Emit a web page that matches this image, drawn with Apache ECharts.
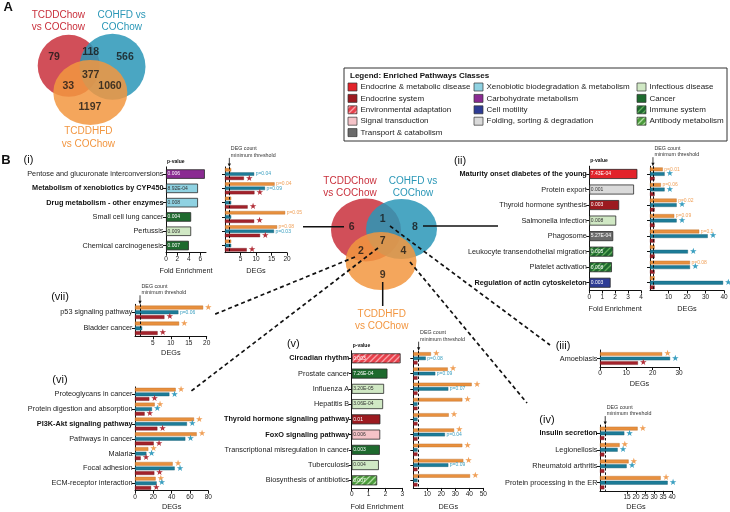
<!DOCTYPE html>
<html><head><meta charset="utf-8">
<script src="https://cdn.jsdelivr.net/npm/echarts@6/dist/echarts.min.js"></script>
<style>html,body{margin:0;padding:0;background:#fff}#c{width:730px;height:512px}</style>
</head><body><div id="c"></div>
<script>
// ================= DATA =================
const vennSetNames = ['TCDDChow\nvs COChow', 'COHFD vs\nCOChow', 'TCDDHFD\nvs COChow'];
const vennACounts = [79, 118, 566, 377, 33, 1060, 1197];
const vennBCounts = [6, 1, 8, 7, 2, 4, 9];

const legendCol1 = ['Endocrine & metabolic disease', 'Endocrine system', 'Environmental adaptation', 'Signal transduction', 'Transport & catabolism'];
const legendCol1Keys = ['endoMet', 'endoSys', 'envAdapt', 'signal', 'transport'];
const legendCol2 = ['Xenobiotic biodegradation & metabolism', 'Carbohydrate metabolism', 'Cell motility', 'Folding, sorting & degradation'];
const legendCol2Keys = ['xeno', 'carb', 'motility', 'folding'];
const legendCol3 = ['Infectious disease', 'Cancer', 'Immune system', 'Antibody metabolism'];
const legendCol3Keys = ['infectious', 'cancer', 'immune', 'antibody'];

// (i)
const iCats = ['Pentose and glucuronate interconversions', 'Metabolism of xenobiotics by CYP450', 'Drug metabolism - other enzymes', 'Small cell lung cancer', 'Pertussis', 'Chemical carcinogenesis'];
const iBold = [false, true, true, false, false, false];
const iClass = ['carb', 'xeno', 'xeno', 'cancer', 'infectious', 'cancer'];
const iFE = [6.8, 5.6, 5.6, 4.4, 4.4, 4.0];
const iP = ['0.006', '8.92E-04', '0.008', '0.004', '0.009', '0.007'];
const iHFD = [2, 16, 2, 19.4, 16.8, 2];
const iCOHFD = [9.4, 12.9, 2, 2, 15.8, 2];
const iChow = [6.1, 9.5, 7.3, 9.4, 11.3, 7];
const iNoteHFD = ['', 'p=0.04', '', 'p=0.05', 'p=0.08', ''];
const iNoteCOHFD = ['p=0.04', 'p=0.09', '', '', 'p=0.03', ''];
const iNoteChow = ['★', '★', '★', '★', '★', '★'];
const iThreshold = 1.4;

// (ii)
const iiCats = ['Maturity onset diabetes of the young', 'Protein export', 'Thyroid hormone synthesis', 'Salmonella infection', 'Phagosome', 'Leukocyte transendothelial migration', 'Platelet activation', 'Regulation of actin cytoskeleton'];
const iiBold = [true, false, false, false, false, false, false, true];
const iiClass = ['endoMet', 'folding', 'endoSys', 'infectious', 'transport', 'immune', 'immune', 'motility'];
const iiFE = [3.72, 3.46, 2.31, 2.08, 1.85, 1.85, 1.75, 1.65];
const iiP = ['7.43E-04', '0.001', '0.003', '0.008', '5.27E-04', '0.005', '0.008', '0.003'];
const iiHFD = [6.9, 5.9, 14.4, 13.1, 26.6, 2.5, 21.6, 2.5];
const iiCOHFD = [7.9, 7.9, 14.4, 14.4, 31.2, 20.5, 21.6, 39.5];
const iiChow = [2.5, 2.5, 2.5, 2.5, 2.5, 2.5, 2.5, 2.5];
const iiNoteHFD = ['p=0.01', 'p=0.06', 'p=0.02', 'p=0.09', 'p=0.1', '', 'p=0.08', ''];
const iiNoteCOHFD = ['★', '★', '★', '★', '★', '★', '★', '★'];
const iiNoteChow = ['', '', '', '', '', '', '', ''];
const iiThreshold = 1.6;

// (iii)
const iiiCats = ['Amoebiasis'];
const iiiBold = [false];
const iiiHFD = [23.6];
const iiiCOHFD = [26.6];
const iiiChow = [14.4];
const iiiNoteHFD = ['★'];
const iiiNoteCOHFD = ['★'];
const iiiNoteChow = ['★'];
const iiiThreshold = null;

// (iv)
const ivCats = ['Insulin secretion', 'Legionellosis', 'Rheumatoid arthritis', 'Protein processing in the ER'];
const ivBold = [true, false, false, false];
const ivHFD = [20.9, 10.9, 15.9, 33.7];
const ivCOHFD = [13.5, 9.8, 14.8, 37.6];
const ivChow = [2.4, 2.4, 2.4, 2.4];
const ivNoteHFD = ['★', '★', '★', '★'];
const ivNoteCOHFD = ['★', '★', '★', '★'];
const ivNoteChow = ['', '', '', ''];
const ivThreshold = 2.9;

// (v)
const vCats = ['Circadian rhythm', 'Prostate cancer', 'Influenza A', 'Hepatitis B', 'Thyroid hormone signaling pathway', 'FoxO signaling pathway', 'Transcriptional misregulation in cancer', 'Tuberculosis', 'Biosynthesis of antibiotics'];
const vBold = [true, false, false, false, true, true, false, false, false];
const vClass = ['envAdapt', 'cancer', 'infectious', 'infectious', 'endoSys', 'signal', 'cancer', 'infectious', 'antibody'];
const vFE = [2.9, 2.12, 1.92, 1.86, 1.70, 1.69, 1.67, 1.61, 1.51];
const vP = ['0.003', '7.26E-04', '3.20E-05', '3.06E-04', '0.01', '0.006', '0.003', '0.004', '0.007'];
const vHFD = [12.6, 24.6, 41.7, 35, 25.3, 29.1, 35, 35.7, 40.5];
const vCOHFD = [8.9, 15.7, 25, 3, 3, 22.6, 3, 25, 3];
const vChow = [3, 3, 3, 3, 3, 3, 3, 3, 3];
const vNoteHFD = ['★', '★', '★', '★', '★', '★', '★', '★', '★'];
const vNoteCOHFD = ['p=0.08', 'p=0.09', 'p=0.07', '', '', 'p=0.04', '', 'p=0.09', ''];
const vNoteChow = ['', '', '', '', '', '', '', '', ''];
const vThreshold = 3.8;

// (vi)
const viCats = ['Proteoglycans in cancer', 'Protein digestion and absorption', 'PI3K-Akt signaling pathway', 'Pathways in cancer', 'Malaria', 'Focal adhesion', 'ECM-receptor interaction'];
const viBold = [false, false, true, false, false, false, false];
const viHFD = [44.4, 21.5, 64.4, 67.3, 14.5, 41.1, 22.5];
const viCOHFD = [37.5, 18.5, 56.7, 54.9, 12.4, 43.3, 23.6];
const viChow = [15.6, 10.5, 24.4, 20.4, 6.2, 21.1, 17.5];
const viNoteHFD = ['★', '★', '★', '★', '★', '★', '★'];
const viNoteCOHFD = ['★', '★', '★', '★', '★', '★', '★'];
const viNoteChow = ['★', '★', '★', '★', '★', '★', '★'];
const viThreshold = null;

// (vii)
const viiCats = ['p53 signaling pathway', 'Bladder cancer'];
const viiBold = [false, false];
const viiHFD = [19, 12.3];
const viiCOHFD = [12.1, 2];
const viiChow = [8.2, 6.3];
const viiNoteHFD = ['★', '★'];
const viiNoteCOHFD = ['p=0.06', ''];
const viiNoteChow = ['★', '★'];
const viiThreshold = 1.4;

// ================= STYLE / LAYOUT =================
const FONT = '"Liberation Sans", Arial, Helvetica, sans-serif';
const SER_C = { hfd: '#e8903e', cohfd: '#1d7c98', chow: '#a3222b' };
const SER_B = { hfd: '#b86a25', cohfd: '#135a70', chow: '#6e141a' };
const NOTE_C = { hfd: '#f0a058', cohfd: '#3a9fc0', chow: '#b22e38' };

function hatch(base, stripe) {
  const cv = document.createElement('canvas');
  cv.width = 6; cv.height = 6;
  const g = cv.getContext('2d');
  g.fillStyle = base; g.fillRect(0, 0, 6, 6);
  g.strokeStyle = stripe; g.lineWidth = 1.3;
  g.beginPath();
  g.moveTo(-1, 7); g.lineTo(7, -1);
  g.moveTo(-1, 1); g.lineTo(1, -1);
  g.moveTo(5, 7); g.lineTo(7, 5);
  g.stroke();
  return { image: cv, repeat: 'repeat' };
}
const CLS = {
  endoMet: '#e2232a', endoSys: '#9c1a20', envAdapt: hatch('#e8414c', '#f7a3aa'), signal: '#f5c3c8', transport: '#6b6b6b',
  xeno: '#8fd2e2', carb: '#8a2b92', motility: '#2e3c95', folding: '#dadada',
  infectious: '#d0e8c4', cancer: '#1e6a2e', immune: hatch('#1e6a2e', '#62ad5c'), antibody: hatch('#4c9c3c', '#b0dda3')
};
const LIGHT = { xeno: 1, signal: 1, folding: 1, infectious: 1 };

const LAY = {
  i:   { top: 166.9, height: 85.8, bw: 3.4, feBW: 9.5, gap: 15, fe: { left: 166, width: 40, max: 7, ticks: [0, 2, 4, 6] }, deg: { left: 225, width: 62, max: 20, ticks: [5, 10, 15, 20] } },
  ii:  { top: 166.2, height: 124.3, bw: 3.7, feBW: 10, gap: 15, fe: { left: 589.3, width: 51.7, max: 4, ticks: [0, 1, 2, 3, 4] }, deg: { left: 650, width: 74, max: 40, ticks: [10, 20, 30, 40] } },
  iii: { top: 350, height: 17, bw: 3.6, gap: 13, deg: { left: 600, width: 79, max: 30, ticks: [0, 10, 20, 30] } },
  iv:  { top: 425.1, height: 65.8, bw: 3.8, gap: 12.5, deg: { left: 600, width: 72, max: 40, ticks: [15, 20, 25, 30, 35, 40] } },
  v:   { top: 350.7, height: 137.25, bw: 3.5, feBW: 10, gap: 15.5, fe: { left: 351.7, width: 50.6, max: 3, ticks: [0, 1, 2, 3] }, deg: { left: 413.3, width: 70, max: 50, ticks: [10, 20, 30, 40, 50] } },
  vi:  { top: 386.9, height: 103.8, bw: 3.7, gap: 12.5, deg: { left: 135, width: 73.3, max: 80, ticks: [0, 20, 40, 60, 80] } },
  vii: { top: 304.3, height: 32, bw: 3.8, gap: 13, deg: { left: 135, width: 71.7, max: 20, ticks: [5, 10, 15, 20] } }
};

const PANELS = [
  { k: 'i', cats: iCats, bold: iBold, fe: { v: iFE, c: iClass, p: iP }, hfd: iHFD, cohfd: iCOHFD, chow: iChow, n: { hfd: iNoteHFD, cohfd: iNoteCOHFD, chow: iNoteChow }, thr: iThreshold },
  { k: 'ii', cats: iiCats, bold: iiBold, fe: { v: iiFE, c: iiClass, p: iiP }, hfd: iiHFD, cohfd: iiCOHFD, chow: iiChow, n: { hfd: iiNoteHFD, cohfd: iiNoteCOHFD, chow: iiNoteChow }, thr: iiThreshold },
  { k: 'iii', cats: iiiCats, bold: iiiBold, hfd: iiiHFD, cohfd: iiiCOHFD, chow: iiiChow, n: { hfd: iiiNoteHFD, cohfd: iiiNoteCOHFD, chow: iiiNoteChow }, thr: iiiThreshold },
  { k: 'iv', cats: ivCats, bold: ivBold, hfd: ivHFD, cohfd: ivCOHFD, chow: ivChow, n: { hfd: ivNoteHFD, cohfd: ivNoteCOHFD, chow: ivNoteChow }, thr: ivThreshold },
  { k: 'v', cats: vCats, bold: vBold, fe: { v: vFE, c: vClass, p: vP }, hfd: vHFD, cohfd: vCOHFD, chow: vChow, n: { hfd: vNoteHFD, cohfd: vNoteCOHFD, chow: vNoteChow }, thr: vThreshold },
  { k: 'vi', cats: viCats, bold: viBold, hfd: viHFD, cohfd: viCOHFD, chow: viChow, n: { hfd: viNoteHFD, cohfd: viNoteCOHFD, chow: viNoteChow }, thr: viThreshold },
  { k: 'vii', cats: viiCats, bold: viiBold, hfd: viiHFD, cohfd: viiCOHFD, chow: viiChow, n: { hfd: viiNoteHFD, cohfd: viiNoteCOHFD, chow: viiNoteChow }, thr: viiThreshold }
];

const grids = [], xAxes = [], yAxes = [], series = [], graphics = [];

function addGrid(left, top, width, height) {
  grids.push({ left, top, width, height, containLabel: false, outerBoundsMode: 'none' });
  return grids.length - 1;
}
function addCatAxis(gi, cats, bold, showLabels) {
  yAxes.push({
    gridIndex: gi, type: 'category', inverse: true, data: cats,
    axisLine: { show: true, onZero: false, lineStyle: { color: '#111', width: 1 } },
    axisTick: { show: true, alignWithLabel: true, length: 3, lineStyle: { color: '#111' } },
    axisLabel: {
      show: showLabels, fontSize: 7.3, color: '#222', margin: 2.5, fontFamily: FONT,
      formatter: (v, i) => bold[i] ? '{b|' + v + '}' : v,
      rich: { b: { fontWeight: 'bold', fontSize: 7.3, color: '#111', fontFamily: FONT } }
    },
    splitLine: { show: false }
  });
  return yAxes.length - 1;
}
function addValAxis(gi, max, ticks, name, gap) {
  xAxes.push({
    gridIndex: gi, type: 'value', min: 0, max: max,
    axisLine: { show: true, onZero: false, lineStyle: { color: '#111', width: 1 } },
    axisTick: { show: true, length: 3, customValues: ticks, lineStyle: { color: '#111' } },
    axisLabel: { fontSize: 6.5, color: '#222', margin: 3, fontFamily: FONT, customValues: ticks },
    splitLine: { show: false },
    name: name, nameLocation: 'middle', nameGap: gap,
    nameTextStyle: { fontSize: 7.3, color: '#222', fontFamily: FONT }
  });
  return xAxes.length - 1;
}
function noteFmt(s) {
  if (!s) return '';
  if (s === '★') return '{s|★}';
  return '{p|' + s + '}';
}

PANELS.forEach(P => {
  const L = LAY[P.k];
  if (P.fe) {
    const g = addGrid(L.fe.left, L.top, L.fe.width, L.height);
    const xi = addValAxis(g, L.fe.max, L.fe.ticks, 'Fold Enrichment', L.gap);
    const yi = addCatAxis(g, P.cats, P.bold, true);
    series.push({
      type: 'bar', xAxisIndex: xi, yAxisIndex: yi, barWidth: L.feBW, silent: true,
      data: P.fe.v.map((v, i) => ({ value: v, itemStyle: { color: CLS[P.fe.c[i]] }, label: { color: LIGHT[P.fe.c[i]] ? '#333' : '#fff' } })),
      itemStyle: { borderColor: '#2a2a2a', borderWidth: 0.8 },
      label: { show: true, position: 'insideLeft', distance: 1.5, fontSize: 5, fontFamily: FONT, formatter: p => P.fe.p[p.dataIndex] }
    });
    graphics.push({ type: 'text', x: L.fe.left + 1, y: L.top - 5.5, style: { text: 'p-value', font: 'bold 5px ' + FONT, fill: '#111', textAlign: 'left', textVerticalAlign: 'middle', align: 'left', verticalAlign: 'middle' } });
  }
  const g2 = addGrid(L.deg.left, L.top, L.deg.width, L.height);
  const xi2 = addValAxis(g2, L.deg.max, L.deg.ticks, 'DEGs', L.gap);
  const yi2 = addCatAxis(g2, P.cats, P.bold, !P.fe);
  ['hfd', 'cohfd', 'chow'].forEach(k => {
    const s = {
      type: 'bar', xAxisIndex: xi2, yAxisIndex: yi2, data: P[k], barWidth: L.bw, barGap: '25%', silent: true,
      itemStyle: { color: SER_C[k], borderColor: SER_B[k], borderWidth: 0.4 },
      label: {
        show: true, position: 'right', distance: 1.5, fontFamily: FONT,
        formatter: p => noteFmt(P.n[k][p.dataIndex]),
        rich: { s: { fontSize: 8.5, color: NOTE_C[k], fontFamily: 'DejaVu Sans' }, p: { fontSize: 5, color: NOTE_C[k], fontFamily: FONT } }
      }
    };
    if (k === 'chow' && P.thr != null) {
      s.markLine = { silent: true, symbol: ['none', 'none'], label: { show: false }, animation: false,
        lineStyle: { type: [2.5, 1.8], color: '#111', width: 1 }, data: [{ xAxis: P.thr }] };
      const tx = L.deg.left + P.thr / L.deg.max * L.deg.width;
      graphics.push({ type: 'text', x: tx + 1.5, y: L.top - 8, style: { text: 'DEG count\nminimum threshold', font: '5.3px ' + FONT, lineHeight: 6.6, fill: '#333', textAlign: 'left', textVerticalAlign: 'bottom', align: 'left', verticalAlign: 'bottom' } });
      graphics.push({ type: 'line', shape: { x1: tx, y1: L.top - 9, x2: tx, y2: L.top - 2 }, style: { stroke: '#111', lineWidth: 0.8 } });
      graphics.push({ type: 'polygon', shape: { points: [[tx - 1.6, L.top - 3.5], [tx + 1.6, L.top - 3.5], [tx, L.top]] }, style: { fill: '#111' } });
    }
    series.push(s);
  });
});

// ---- Venn diagrams (hidden value axes, 1 unit = 1 px inside each grid) ----
const VENN_COL = ['#c9303c', '#2a97b7', '#f29640'];
const VENN = [
  { counts: vennACounts, left: 0, top: 0, width: 200, height: 160,
    circles: [[68.7, 65.8, 62, 62], [112.5, 66.7, 66, 66], [90.3, 92.5, 74, 65]],
    nums: [[54, 56.7], [90.7, 52.3], [125, 57.3], [90.7, 75], [68.3, 86], [110, 86], [90, 107.3]],
    labels: [[58.3, 21.3], [121.7, 21.3], [88.3, 137.8]], lh: 12.7 },
  { counts: vennBCounts, left: 300, top: 170, width: 160, height: 140,
    circles: [[66, 60, 70, 63], [101.5, 59, 71, 60], [81, 91, 71, 58]],
    nums: [[51.7, 56.7], [82.7, 49], [115, 56.7], [82.7, 71], [61, 80.7], [103.3, 80.7], [82.7, 105]],
    labels: [[350, 187.5], [413, 187.5], [381.7, 320.5]], lh: 11.6 }
];
VENN.forEach(V => {
  const g = addGrid(V.left, V.top, V.width, V.height);
  xAxes.push({ gridIndex: g, type: 'value', min: 0, max: V.width, show: false });
  yAxes.push({ gridIndex: g, type: 'value', min: 0, max: V.height, inverse: true, show: false });
  const xi = xAxes.length - 1, yi = yAxes.length - 1;
  series.push({
    type: 'scatter', xAxisIndex: xi, yAxisIndex: yi, silent: true, z: 1,
    data: V.circles.map((c, i) => ({ value: [c[0], c[1]], symbolSize: [c[2], c[3]], itemStyle: { color: VENN_COL[i], opacity: 0.85 } })),
    symbol: 'circle'
  });
  series.push({
    type: 'scatter', xAxisIndex: xi, yAxisIndex: yi, silent: true, z: 3, symbolSize: 0,
    data: V.nums.map(p => ({ value: [p[0], p[1]] })),
    label: { show: true, position: 'inside', formatter: p => String(V.counts[p.dataIndex]), fontSize: 10.5, fontWeight: 'bold', color: '#161616', fontFamily: FONT }
  });
  V.labels.forEach((p, i) => {
    graphics.push({ type: 'text', x: p[0], y: p[1], style: { text: vennSetNames[i], font: '10px ' + FONT, lineHeight: V.lh, fill: VENN_COL[i], textAlign: 'center', textVerticalAlign: 'middle', align: 'center', verticalAlign: 'middle' } });
  });
});

function txt(s, x, y, font, fill, align) {
  graphics.push({ type: 'text', x, y, style: { text: s, font, fill: fill || '#111', textAlign: align || 'center', textVerticalAlign: 'middle', align: align || 'center', verticalAlign: 'middle' } });
}
txt('A', 8.3, 7.5, 'bold 13px ' + FONT);
txt('B', 6, 160, 'bold 13px ' + FONT);
const panelLabelPos = { '(i)': [28.5, 160], '(ii)': [460, 161], '(iii)': [563, 346], '(iv)': [547, 420], '(v)': [293.3, 344], '(vi)': [60, 380], '(vii)': [60, 297] };
Object.keys(panelLabelPos).forEach(k => txt(k, panelLabelPos[k][0], panelLabelPos[k][1], '11px ' + FONT, '#111'));

const solid = [[303, 226.7, 344, 226.7], [423, 226, 498, 226], [382.7, 282, 382.7, 306]];
const dashed = [[355, 257, 213, 315], [378, 248, 190, 392], [390, 226, 550, 345], [410, 262, 527, 403]];
solid.forEach(l => graphics.push({ type: 'line', z: 10, shape: { x1: l[0], y1: l[1], x2: l[2], y2: l[3] }, style: { stroke: '#111', lineWidth: 1.5 } }));
dashed.forEach(l => graphics.push({ type: 'line', z: 10, shape: { x1: l[0], y1: l[1], x2: l[2], y2: l[3] }, style: { stroke: '#111', lineWidth: 1.7, lineDash: [4, 3] } }));

const LEG = { x: 344, y: 68, w: 383, h: 73, titleY: 75.5, row0: 87, rowH: 11.4, cols: [348, 474, 637], sw: 9, sh: 8 };
graphics.push({ type: 'rect', shape: { x: LEG.x, y: LEG.y, width: LEG.w, height: LEG.h }, style: { fill: '#fff', stroke: '#333', lineWidth: 1 } });
txt('Legend: Enriched Pathways Classes', LEG.x + 6, LEG.titleY, 'bold 8px ' + FONT, '#111', 'left');
[[legendCol1, legendCol1Keys], [legendCol2, legendCol2Keys], [legendCol3, legendCol3Keys]].forEach((col, ci) => {
  col[0].forEach((name, ri) => {
    const y = LEG.row0 + ri * LEG.rowH;
    graphics.push({ type: 'rect', shape: { x: LEG.cols[ci], y: y - LEG.sh / 2, width: LEG.sw, height: LEG.sh }, style: { fill: CLS[col[1][ri]], stroke: '#333', lineWidth: 0.7 } });
    txt(name, LEG.cols[ci] + LEG.sw + 3.5, y, '8px ' + FONT, '#222', 'left');
  });
});

const chart = echarts.init(document.getElementById('c'), null, { renderer: 'canvas', width: 730, height: 512 });
chart.setOption({
  animation: false,
  backgroundColor: '#fff',
  textStyle: { fontFamily: FONT },
  grid: grids, xAxis: xAxes, yAxis: yAxes, series: series,
  graphic: { elements: graphics }
});
</script></body></html>
